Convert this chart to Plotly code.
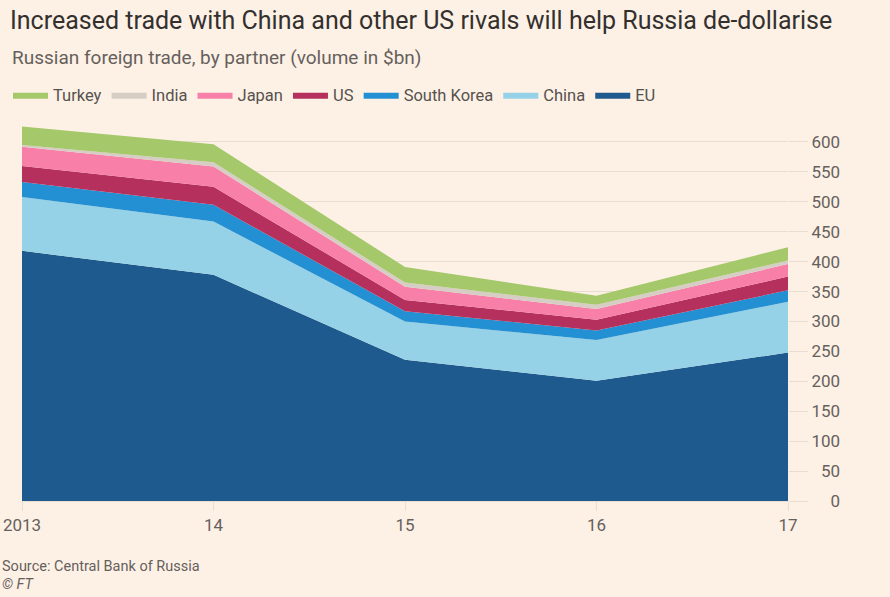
import plotly.graph_objects as go

years = [2013, 2014, 2015, 2016, 2017]
x_labels = ["2013", "14", "15", "16", "17"]

eu = [418, 378, 236, 201, 248]
china = [90, 89, 64, 68, 85]
south_korea = [25, 28, 17, 16, 19]
us = [27, 30, 19, 18, 23]
japan = [32, 34, 22, 18, 21]
india = [3, 7, 7, 7, 6]
turkey = [31, 30, 26, 15, 22]

series = [
    ("EU", eu, "#1f5a8e"),
    ("China", china, "#95d2e8"),
    ("South Korea", south_korea, "#2390d4"),
    ("US", us, "#b5305d"),
    ("Japan", japan, "#f77fa8"),
    ("India", india, "#d6cec5"),
    ("Turkey", turkey, "#a5c86a"),
]

y_ticks = list(range(0, 601, 50))
FS = "\u2007"
y_ticktext = [FS * (3 - len(str(v))) + str(v) for v in y_ticks]

fig = go.Figure()
for name, vals, col in series:
    fig.add_trace(go.Scatter(
        x=years, y=vals, name=name, mode="lines",
        stackgroup="one", line=dict(width=0, color=col),
        fillcolor=col, hoverinfo="x+y+name",
    ))

bg = "#fdf1e6"
grid = "#e9ddd1"
fig.update_layout(
    width=890, height=597,
    paper_bgcolor=bg, plot_bgcolor=bg,
    margin=dict(l=22, r=102, t=124, b=96, autoexpand=False),
    font=dict(family="Roboto, sans-serif", color="#66605c", size=15),
    title=dict(
        text="Increased trade with China and other US rivals will help Russia de-dollarise",
        x=10 / 890, xref="container", xanchor="left",
        y=1 - 20 / 597, yref="container", yanchor="middle",
        font=dict(size=25, color="#33302e"),
    ),
    legend=dict(
        orientation="h", traceorder="reversed",
        x=8 / 890, xref="container", xanchor="left",
        y=1 - 95 / 597, yref="container", yanchor="middle",
        font=dict(size=16.5, color="#57524e"),
        bgcolor="rgba(0,0,0,0)", itemclick=False, itemwidth=35,
    ),
    showlegend=True,
)
fig.add_annotation(text="Russian foreign trade, by partner (volume in $bn)",
                   xref="paper", yref="paper",
                   x=(10 - 22) / 766, y=1 + (124 - 57) / 377,
                   xanchor="left", yanchor="middle", showarrow=False,
                   font=dict(size=19, color="#66605c"))
fig.add_annotation(text="Source: Central Bank of Russia",
                   xref="paper", yref="paper",
                   x=(0 - 22) / 766, y=-(566 - 501) / 377,
                   xanchor="left", yanchor="middle", showarrow=False,
                   font=dict(size=14.5, color="#66605c"))
fig.add_annotation(text="<i>© FT</i>",
                   xref="paper", yref="paper",
                   x=(0 - 22) / 766, y=-(584 - 501) / 377,
                   xanchor="left", yanchor="middle", showarrow=False,
                   font=dict(size=14.5, color="#66605c"))

fig.update_xaxes(
    range=[2013, 2017], tickvals=years, ticktext=x_labels,
    showgrid=False, zeroline=False,
    showline=True, linecolor=grid, linewidth=1,
    ticks="outside", ticklen=9, tickcolor=grid,
    tickfont=dict(size=17, color="#66605c"),
)
fig.update_yaxes(
    range=[0, 630], side="right", tickvals=y_ticks, ticktext=y_ticktext,
    showgrid=True, gridcolor=grid, gridwidth=1, zeroline=False,
    ticks="outside", ticklen=19, tickcolor=grid,
    tickfont=dict(size=17, color="#66605c"),
)

fig.write_html("out.html")
